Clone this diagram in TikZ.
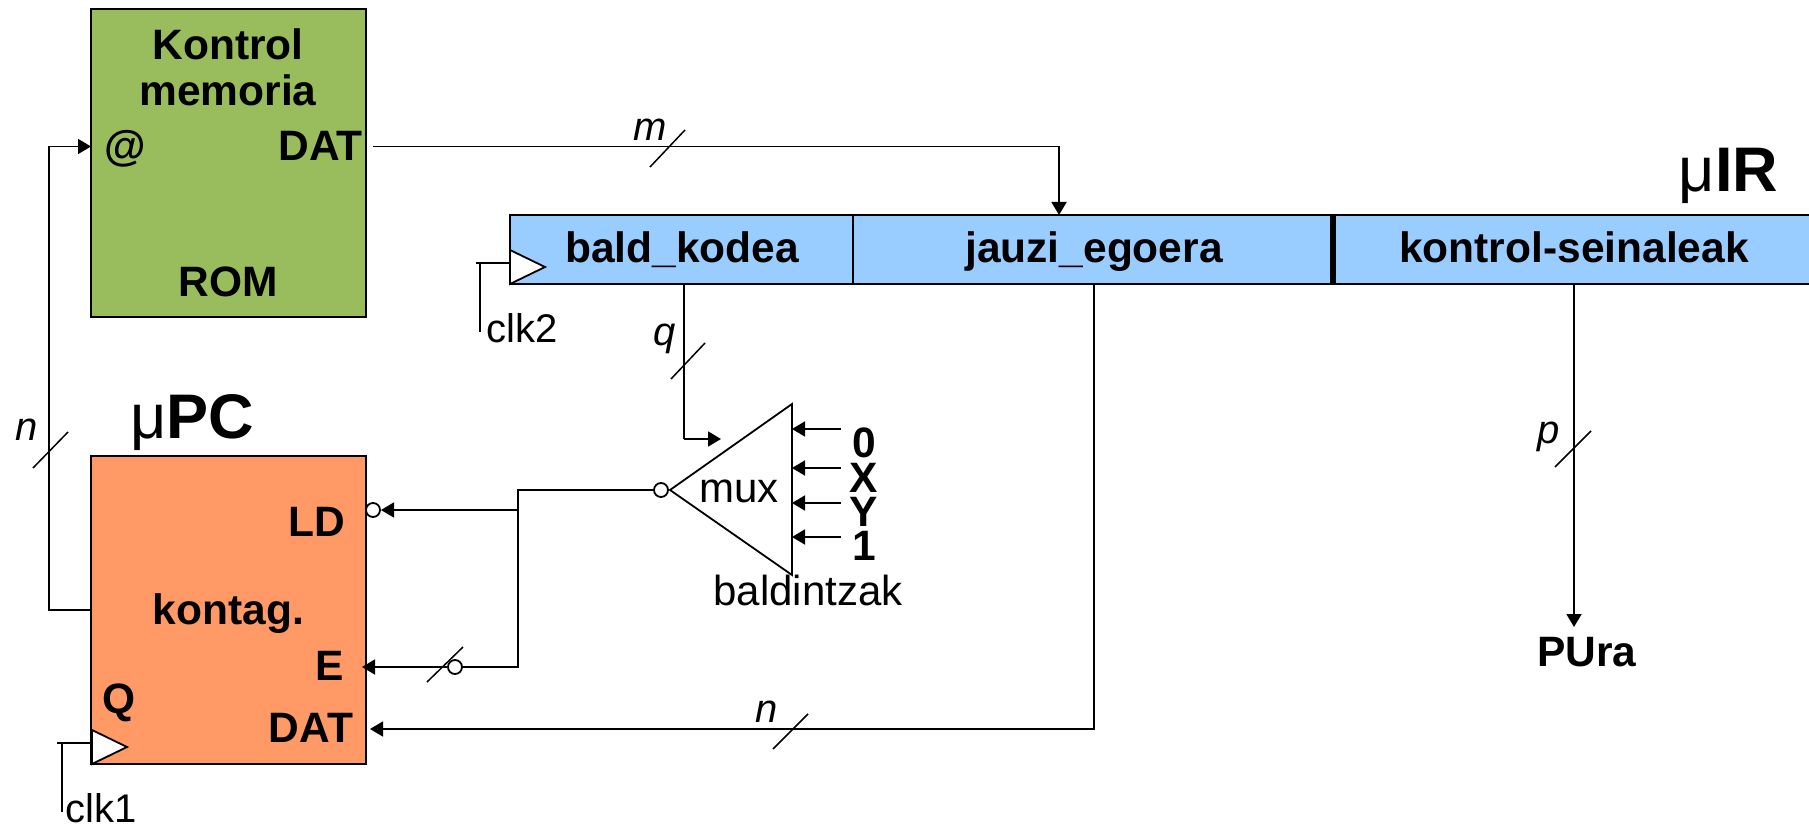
\documentclass[tikz,border=0pt]{standalone}
\usepackage{fontspec}
\setmainfont{Liberation Sans}
\usetikzlibrary{arrows.meta,calc}
\definecolor{romgreen}{HTML}{99BD5C}
\definecolor{pcorange}{HTML}{FF9966}
\definecolor{irblue}{HTML}{99CCFF}
\newcommand{\fs}[1]{\fontsize{#1}{#1}\selectfont}
\tikzset{
  x=1pt,y=-1pt,
  wire/.style={line width=1.8pt,line join=miter,black},
  arr/.style={wire,-{Triangle[length=13pt,width=15pt]}},
  tick/.style={line width=1.5pt,black},
  blockbox/.style={draw=black,line width=1.8pt,inner sep=0pt,outer sep=0pt,rectangle},
  clock/.style={draw=black,line width=1.8pt,fill=white,line join=miter},
  bubble/.style={circle,draw=black,line width=1.8pt,fill=white,inner sep=0pt,outer sep=0pt,minimum size=14pt},
  lbl/.style={anchor=base,inner sep=0pt,outer sep=0pt,text=black},
  bl/.style={lbl,font=\fs{42.5}\bfseries},
  rg/.style={lbl,font=\fs{42}},
  ck/.style={lbl,font=\fs{40}},
  it/.style={lbl,font=\fs{40}\itshape},
}
\begin{document}
\begin{tikzpicture}
\useasboundingbox (0,0) rectangle (1809,826);
% blocks
\node[blockbox,fill=romgreen,minimum width=275pt,minimum height=308pt] (rom) at (228.5,163) {};
\node[blockbox,fill=pcorange,minimum width=275pt,minimum height=308pt] (pc) at (228.5,610) {};
\node[blockbox,fill=irblue,minimum width=343pt,minimum height=69pt] (cellA) at (681.5,249.5) {};
\node[blockbox,fill=irblue,minimum width=480pt,minimum height=69pt] (cellB) at (1093,249.5) {};
\node[blockbox,fill=irblue,minimum width=490pt,minimum height=69pt] (cellC) at (1578,249.5) {};
\fill[black] (1330,215) rectangle (1336,284);
% clocks
\coordinate (ckBt) at (510,250); \coordinate (ckBtip) at (545,267); \coordinate (ckBb) at (510,284);
\draw[clock] (ckBt) -- (ckBtip) -- (ckBb) -- cycle;
\coordinate (ckAt) at (92,730); \coordinate (ckAtip) at (127,747); \coordinate (ckAb) at (92,764);
\draw[clock] (ckAt) -- (ckAtip) -- (ckAb) -- cycle;
\coordinate (clk2in) at (510,263); \coordinate (clk2s) at (476,263); \coordinate (clk2t) at (480,263); \coordinate (clk2e) at (480,332);
\draw[wire] (clk2s) -- (clk2in); \draw[wire] (clk2t) -- (clk2e);
\coordinate (clk1in) at (92,743); \coordinate (clk1s) at (57,743); \coordinate (clk1t) at (62,743); \coordinate (clk1e) at (62,812);
\draw[wire] (clk1s) -- (clk1in); \draw[wire] (clk1t) -- (clk1e);
% mux
\coordinate (muxA) at (670,490); \coordinate (muxT) at (792,404); \coordinate (muxB) at (792,575);
\draw[wire] (muxA) -- (muxT) -- (muxB) -- cycle;
\node[bubble] (muxbub) at (661,490) {};
\node[bubble] (ldbub) at (373,510) {};
\node[bubble] (ebub) at (455,667) {};
% mux inputs
\foreach \n/\yy in {a/429,b/468,c/503,d/537}{
  \coordinate (in\n s) at (841,\yy);
  \coordinate (in\n e) at (792,\yy);
  \draw[arr] (in\n s) -- (in\n e);
}
% connectors
\coordinate (romout) at (373,146.5);
\coordinate (jumpin) at (1059,215);
\draw[arr] (romout) -| (jumpin);
\coordinate (pcout) at (92,610); \coordinate (romin) at (91,146.5); \coordinate (leftx) at (49,610);
\draw[arr] (pcout) -- (leftx) |- (romin);
\coordinate (qs) at (684,284); \coordinate (qc) at (684,439); \coordinate (qe) at (721,439);
\draw[wire] (qs) -- (qc);
\draw[arr] (qc) -- (qe);
\coordinate (jA) at (518,490); \coordinate (jB) at (518,510); \coordinate (jC) at (518,667);
\draw[wire] (muxbub.west) -- (jA) -- (jC) -- (ebub.east);
\coordinate (ldtip) at (381,510); \coordinate (etip) at (362,667);
\draw[arr] (jB) -- (ldtip);
\draw[arr] (ebub.west) -- (etip);
\coordinate (datS) at (1094,284); \coordinate (datC) at (1094,729); \coordinate (dattip) at (370,729);
\draw[arr] (datS) -- (datC) -- (dattip);
\coordinate (ps) at (1574,284); \coordinate (pe) at (1574,627);
\draw[arr] (ps) -- (pe);
% width ticks
\draw[tick] (650,167) -- (685,130);
\draw[tick] (33,468) -- (68,432);
\draw[tick] (671,379) -- (705,343);
\draw[tick] (427,682) -- (463,647);
\draw[tick] (773,749) -- (808,714);
\draw[tick] (1555,467) -- (1591,431);
% labels
\node[bl] (t1) at (228,60) {Kontrol};
\node[bl] (t2) at (228,106) {memoria};
\node[bl] (t3) at (125,161) {@};
\node[bl] (t4) at (320.5,161) {DAT};
\node[bl] (t5) at (228.5,297) {ROM};
\node[lbl,font=\fs{63}] (t6) at (192,438) {μ\textbf{PC}};
\node[lbl,font=\fs{63}] (t7) at (1728.5,192) {μ\textbf{IR}};
\node[bl] (t8) at (682,263) {bald\_kodea};
\node[bl] (t9) at (1094,263) {jauzi\_egoera};
\node[bl] (t10) at (1574,263) {kontrol-seinaleak};
\node[bl] (t11) at (317,536) {LD};
\node[bl] (t12) at (228.5,624) {kontag.};
\node[bl] (t13) at (329.5,680) {E};
\node[bl] (t14) at (119,713) {Q};
\node[bl] (t15) at (311,742) {DAT};
\node[ck] (t16) at (522,342) {clk2};
\node[ck] (t17) at (101,822) {clk1};
\node[rg] (t18) at (739,502) {mux};
\node[rg] (t19) at (808,605) {baldintzak};
\node[bl] (t20) at (864,457) {0};
\node[bl] (t21) at (864,492) {X};
\node[bl] (t22) at (864,526) {Y};
\node[bl] (t23) at (864,560) {1};
\node[bl] (t24) at (1587,666) {PUra};
\node[it] (t25) at (650,141) {m};
\node[it] (t26) at (27,440) {n};
\node[it] (t27) at (665,345) {q};
\node[it] (t28) at (767,722) {n};
\node[it] (t29) at (1549,443) {p};
\end{tikzpicture}
\end{document}
